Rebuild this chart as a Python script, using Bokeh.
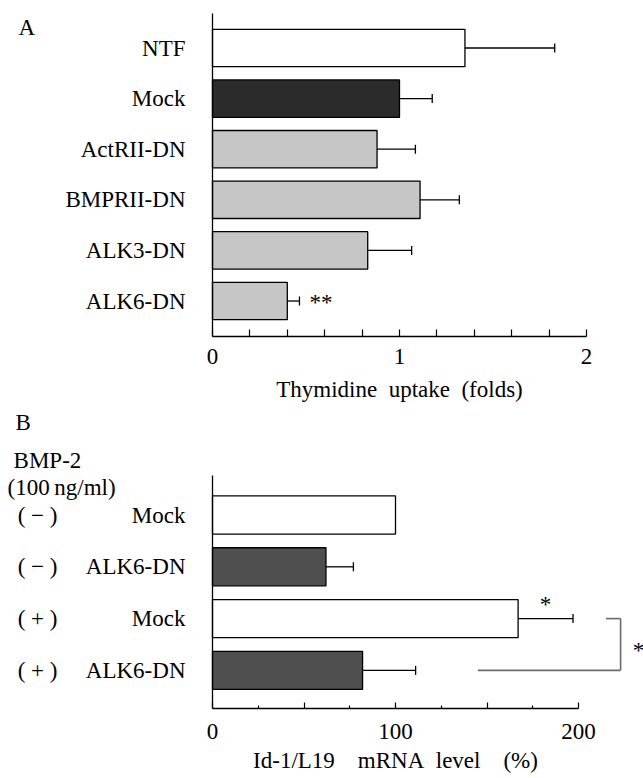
from bokeh.plotting import figure
from bokeh.models import (ColumnDataSource, Range1d, FixedTicker,
                          Whisker, TeeHead, LabelSet, Label)
from bokeh.core.properties import value
from bokeh.layouts import column
from bokeh.embed import file_html
from bokeh.resources import INLINE

FONT = "Liberation Serif"
FS = "23px"

# ---------------- Panel A data ----------------
a_groups = ["NTF", "Mock", "ActRII-DN", "BMPRII-DN", "ALK3-DN", "ALK6-DN"]
a_values = [1.35, 1.00, 0.88, 1.11, 0.83, 0.40]
a_errors = [0.48, 0.175, 0.205, 0.21, 0.235, 0.065]
a_colors = ["#ffffff", "#2b2b2b", "#c6c6c6", "#c6c6c6", "#c6c6c6", "#c6c6c6"]
a_signif = ["", "", "", "", "", "**"]
a_ticks = [0, 1, 2]
a_minor_ticks = [0.2, 0.4, 0.6, 0.8, 1.2, 1.4, 1.6, 1.8]
a_axis_bounds = (0, 2)

# ---------------- Panel B data ----------------
b_bmp2 = ["\u2212", "\u2212", "+", "+"]
b_groups = ["Mock", "ALK6-DN", "Mock", "ALK6-DN"]
b_values = [100, 62, 167, 82]
b_errors = [0, 15, 30, 29]
b_colors = ["#ffffff", "#4f4f4f", "#ffffff", "#4f4f4f"]
b_signif = ["", "", "*", ""]
b_ticks = [0, 50, 100, 150, 200]
b_tick_labels = {0: "0", 50: "", 100: "100", 150: "", 200: "200"}
b_minor_ticks = [25, 75, 125, 175]
b_axis_bounds = (0, 200)

# row positions (top row first)
a_pos = [len(a_groups) - i for i in range(len(a_groups))]
b_pos = [len(b_groups) - i for i in range(len(b_groups))]

W = 643
H_A = 410
H_B = 368


def txt(**kw):
    d = dict(text_font=FONT, text_font_size=FS, text_color="black")
    d.update(kw)
    return d


def base_fig(w, h, xr, yr):
    p = figure(width=w, height=h, x_range=Range1d(*xr), y_range=Range1d(*yr),
               output_backend="svg", toolbar_location=None, min_border=0)
    p.outline_line_color = None
    p.grid.visible = False
    p.background_fill_color = "white"
    p.border_fill_color = "white"
    return p


def style_axes(p, x_loc, y_top):
    for ax in p.axis:
        ax.axis_line_color = "black"
        ax.axis_line_width = 1.3
        ax.major_label_text_font = FONT
        ax.major_label_text_font_size = FS
        ax.major_label_text_color = "black"
        ax.major_tick_line_color = "black"
        ax.minor_tick_line_color = "black"
        ax.major_tick_line_width = 1.2
        ax.minor_tick_line_width = 1.2
    ya = p.yaxis[0]
    ya.fixed_location = 0
    ya.bounds = (x_loc, y_top)
    ya.major_tick_in = 0
    ya.major_tick_out = 0
    ya.minor_tick_in = 0
    ya.minor_tick_out = 0
    ya.major_label_standoff = 27
    xa = p.xaxis[0]
    xa.fixed_location = x_loc


# ---------------- Panel A ----------------
A_PX = 187.0          # pixels per fold
A_ROW = 50.6          # pixels per row
a_xr = (-212 / A_PX, (W - 212) / A_PX)
a_top = 47.5          # canvas y of first row centre
n_a = len(a_groups)


def ay(py):
    return n_a - (py - a_top) / A_ROW


a_yr = (ay(H_A), ay(0))
fa = base_fig(W, H_A, a_xr, a_yr)

src_a = ColumnDataSource(dict(
    y=a_pos, v=a_values,
    up=[v + e for v, e in zip(a_values, a_errors)],
    color=a_colors, sig=a_signif))
fa.hbar(y="y", left=0, right="v", height=0.74, fill_color="color",
        line_color="black", line_width=1.3, source=src_a)
fa.add_layout(Whisker(base="y", lower="v", upper="up", dimension="width",
                      source=src_a, line_color="black", line_width=1.3,
                      lower_head=None,
                      upper_head=TeeHead(size=9, line_color="black", line_width=1.3),
                      level="overlay"))
fa.add_layout(LabelSet(x="up", y="y", text="sig", source=src_a, x_offset=10,
                       y_offset=-1, text_align="left", text_baseline="middle",
                       text_font=value(FONT), text_font_size=value(FS),
                       text_color="black"))
fa.add_layout(Label(x=-1.037, y=ay(27), text="A",
                    text_align="left", text_baseline="middle", **txt()))
fa.add_layout(Label(x=sum(a_axis_bounds) / 2, y=ay(389),
                    text="Thymidine\u2002uptake\u2002(folds)",
                    text_align="center", text_baseline="middle", **txt()))

style_axes(fa, ay(336), ay(12.7))
fa.yaxis[0].ticker = FixedTicker(ticks=a_pos)
fa.yaxis[0].major_label_overrides = dict(zip(a_pos, a_groups))
xa = fa.xaxis[0]
xa.ticker = FixedTicker(ticks=a_ticks, minor_ticks=a_minor_ticks)
xa.bounds = a_axis_bounds
xa.major_tick_in = 7
xa.major_tick_out = 0
xa.minor_tick_in = 7
xa.minor_tick_out = 0
xa.major_label_standoff = 12

# ---------------- Panel B ----------------
B_PX = 1.83           # pixels per percent
B_ROW = 51.8
b_xr = (-212 / B_PX, (W - 212) / B_PX)
b_off = H_A           # page y where panel B starts
b_top = 514.5 - b_off
n_b = len(b_groups)


def by(page_y):
    return n_b - (page_y - b_off - b_top) / B_ROW


b_yr = (by(b_off + H_B), by(b_off))
fb = base_fig(W, H_B, b_xr, b_yr)

src_b = ColumnDataSource(dict(
    y=b_pos, v=b_values,
    mid=[v + e / 2 for v, e in zip(b_values, b_errors)],
    color=b_colors, sig=b_signif,
    sign=["( %s )" % s for s in b_bmp2]))
fb.hbar(y="y", left=0, right="v", height=0.735, fill_color="color",
        line_color="black", line_width=1.3, source=src_b)

err_idx = [i for i, e in enumerate(b_errors) if e > 0]
src_b_err = ColumnDataSource(dict(
    y=[b_pos[i] for i in err_idx],
    v=[b_values[i] for i in err_idx],
    up=[b_values[i] + b_errors[i] for i in err_idx]))
fb.add_layout(Whisker(base="y", lower="v", upper="up", dimension="width",
                      source=src_b_err, line_color="black", line_width=1.3,
                      lower_head=None,
                      upper_head=TeeHead(size=9, line_color="black", line_width=1.3),
                      level="overlay"))
# star above the (+) Mock error bar
fb.add_layout(LabelSet(x="mid", y="y", text="sig", source=src_b, y_offset=14,
                       text_align="center", text_baseline="middle",
                       text_font=value(FONT), text_font_size=value(FS),
                       text_color="black"))
# BMP-2 (+/-) column
fb.add_layout(LabelSet(x=-95.6, y="y", text="sign", source=src_b,
                       text_align="center", text_baseline="middle",
                       text_font=value(FONT), text_font_size=value(FS),
                       text_color="black"))

# significance bracket between (+) Mock and (+) ALK6-DN
bracket_x = 223
fb.segment(x0=[145, bracket_x, 215], y0=[b_pos[3], b_pos[3], b_pos[2]],
           x1=[bracket_x, bracket_x, bracket_x], y1=[b_pos[3], b_pos[2], b_pos[2]],
           line_color="#6a6a6a", line_width=1.6)
fb.add_layout(Label(x=bracket_x, y=(b_pos[2] + b_pos[3]) / 2, x_offset=18,
                    y_offset=-6, text="*", text_align="center",
                    text_baseline="middle", **txt()))

fb.add_layout(Label(x=-107.7, y=by(422), text="B",
                    text_align="left", text_baseline="middle", **txt()))
fb.add_layout(Label(x=-108.7, y=by(460), text="BMP-2",
                    text_align="left", text_baseline="middle", **txt()))
fb.add_layout(Label(x=-112, y=by(487), text="(100\u2009ng/ml)",
                    text_align="left", text_baseline="middle", **txt()))
fb.add_layout(Label(x=sum(b_axis_bounds) / 2, y=by(760),
                    text="Id-1/L19\u2003mRNA\u2002level\u2003(%)",
                    text_align="center", text_baseline="middle", **txt()))

style_axes(fb, by(708), by(475))
fb.yaxis[0].ticker = FixedTicker(ticks=b_pos)
fb.yaxis[0].major_label_overrides = dict(zip(b_pos, b_groups))
xb = fb.xaxis[0]
xb.ticker = FixedTicker(ticks=b_ticks, minor_ticks=b_minor_ticks)
xb.major_label_overrides = b_tick_labels
xb.bounds = b_axis_bounds
xb.major_tick_in = 6
xb.major_tick_out = 0
xb.minor_tick_in = 3
xb.minor_tick_out = 0
xb.major_label_standoff = 15

layout = column(fa, fb, spacing=0)
open("out.html", "w").write(file_html(layout, INLINE))
